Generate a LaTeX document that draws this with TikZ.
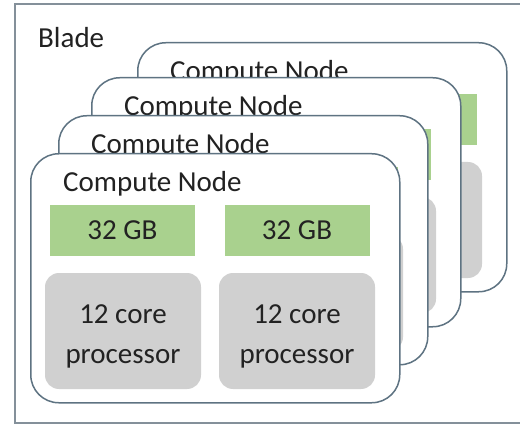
\documentclass[tikz,border=0pt]{standalone}
\usepackage{fontspec}
\setmainfont{Carlito}
\definecolor{frameline}{HTML}{84909A}
\definecolor{cardline}{HTML}{5E7382}
\definecolor{memgreen}{HTML}{A9D18E}
\definecolor{cpugray}{HTML}{D0D0D0}
\definecolor{ink}{HTML}{222222}

% one compute node card: #1 name prefix, #2/#3 top-left corner
\newcommand\computecard[3]{%
  \begin{scope}[shift={(#2,#3)}]
    \node[card] (#1) at (0,0) {};
    \node[cardtitle] (#1t) at (33,39) {Compute Node};
    \node[mem] (#1ma) at (92.5,77.5) {32 GB};
    \node[mem] (#1mb) at (267,77.5) {32 GB};
    \node[cpu] (#1pa) at (93,178) {};
    \node[cputext] (#1pat) at ([yshift=-5pt]#1pa.center) {12 core\\processor};
    \node[cpu] (#1pb) at (267,178) {};
    \node[cputext] (#1pbt) at ([yshift=-5pt]#1pb.center) {12 core\\processor};
  \end{scope}}

\begin{document}
\begin{tikzpicture}[x=1pt,y=-1pt,
  bigtext/.style={font=\fontsize{29}{40}\selectfont, text=ink},
  card/.style={draw=cardline, line width=1.5pt, fill=white, rounded corners=28pt,
    minimum width=369pt, minimum height=249pt, anchor=north west, inner sep=0pt},
  cardtitle/.style={bigtext, anchor=base west, inner sep=0pt},
  mem/.style={bigtext, fill=memgreen, minimum width=145pt, minimum height=51pt, inner sep=0pt},
  cpu/.style={fill=cpugray, rounded corners=14pt, minimum width=156pt,
    minimum height=116pt, inner sep=0pt},
  cputext/.style={bigtext, inner sep=0pt, align=center}]
  \useasboundingbox (0,0) rectangle (520,425);
  \clip (0,0) rectangle (520,425);
  \fill[white] (0,0) rectangle (520,425);
  % blade enclosure (its right side runs past the edge)
  \node[draw=frameline, line width=2pt, minimum width=520pt, minimum height=419pt,
    anchor=north west, inner sep=0pt] (blade) at (14,3) {};
  \node[cardtitle] (bladet) at (38,48) {Blade};
  % stacked compute nodes, back to front
  \computecard{c4}{137}{42}
  \computecard{c3}{91}{77}
  \computecard{c2}{58}{115}
  \computecard{c1}{30}{153}
\end{tikzpicture}
\end{document}
